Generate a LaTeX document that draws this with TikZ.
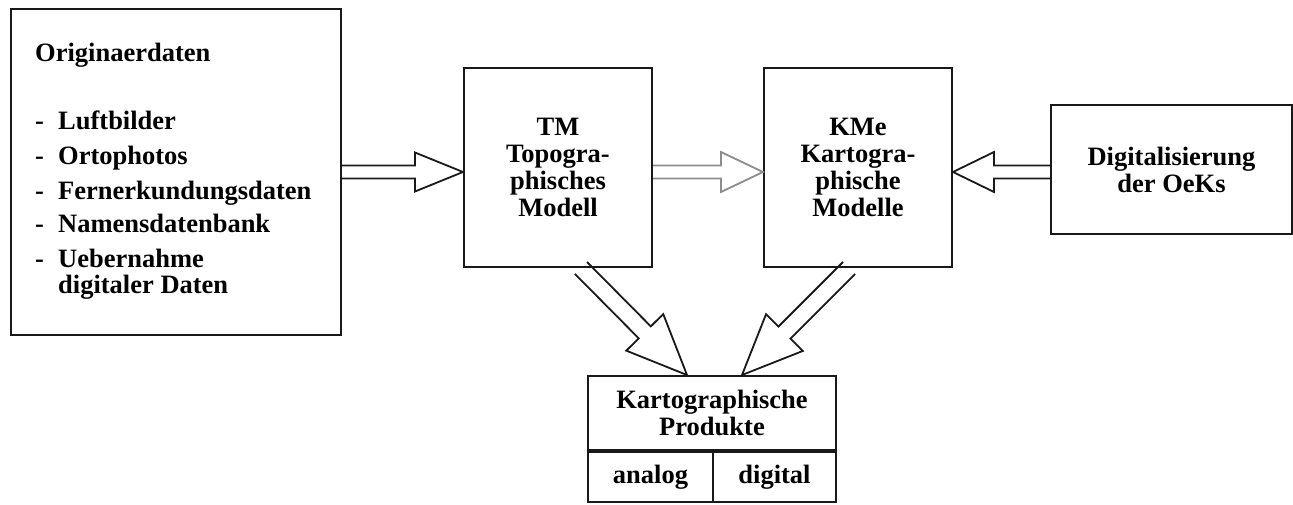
\documentclass[tikz,border=0pt]{standalone}
\usepackage{fontspec}
\setmainfont{Liberation Serif}
\usetikzlibrary{positioning,calc}
\tikzset{
  txt/.style={font=\bfseries\fontsize{26.5}{27}\selectfont, inner sep=0pt},
  box/.style={rectangle, draw=black!90, line width=2pt, txt, align=center},
  model/.style={box, minimum width=188, minimum height=199},
  cell/.style={box, minimum height=50},
  connect/.style={line width=1.8pt, draw=black!90, line join=miter}
}
% hollow block arrow: [style] from, to, shaft half width, head half width, head length
\newcommand{\fatarrow}[6][]{%
  \path (#2) coordinate (fa-s) (#3) coordinate (fa-e);
  \path ($(fa-e)!#6!(fa-s)$) coordinate (fa-h);
  \draw[connect,#1] ($(fa-s)!#4!90:(fa-e)$) -- ($(fa-h)!#4!90:(fa-e)$)
    -- ($(fa-h)!#5!90:(fa-e)$) -- (fa-e) -- ($(fa-h)!#5!-90:(fa-e)$)
    -- ($(fa-h)!#4!-90:(fa-e)$) -- ($(fa-s)!#4!-90:(fa-e)$);
}

\begin{document}
\begin{tikzpicture}[x=1pt, y=-1pt]
  \useasboundingbox (0,0) rectangle (1293,505);

  % Source data
  \node[box, minimum width=330, minimum height=326] (orig) at (176,172) {};
  \node[txt, anchor=base west] (orig-title) at (35,62) {Originaerdaten};
  \foreach \n/\t/\y in {1/Luftbilder/130, 2/Ortophotos/165, 3/Fernerkundungsdaten/200, 4/Namensdatenbank/233, 5/Uebernahme/267} {
    \node[txt, anchor=base west] (dash-\n) at (35,\y) {-};
    \node[txt, anchor=base west] (item-\n) at (58,\y) {\t};
  }
  \node[txt, anchor=base west] (item-6) at (58,293) {digitaler Daten};

  % Models
  \node[model] (tm) at (558,167.5) {TM\\Topogra-\\phisches\\Modell};
  \node[model, right=110pt of tm] (kme) {KMe\\Kartogra-\\phische\\Modelle};
  \node[box, minimum width=241, minimum height=129] (digi) at (1171.5,169.5) {Digitalisierung\\der OeKs};

  % Products
  \node[box, minimum width=248, minimum height=74] (prod) at (712,413) {Kartographische\\Produkte};
  \node[cell, anchor=north west, minimum width=125] (analog) at (prod.south west) {analog};
  \node[cell, anchor=north east, minimum width=123] (digital) at (prod.south east) {digital};

  % Arrows
  \fatarrow{orig.east}{orig.east -| tm.west}{6.5pt}{19.5pt}{48pt}
  \fatarrow[draw=black!45]{tm.east |- orig.east}{kme.west |- orig.east}{6.5pt}{20pt}{42pt}
  \fatarrow{digi.west |- orig.east}{kme.east |- orig.east}{6.5pt}{20pt}{41pt}
  \fatarrow{$(tm.south)+(23,0)$}{$(prod.north)+(-25,0)$}{8.5pt}{26pt}{60pt}
  \fatarrow{$(kme.south)+(-9,0)$}{$(prod.north)+(30,0)$}{8.5pt}{26pt}{60pt}
\end{tikzpicture}
\end{document}
